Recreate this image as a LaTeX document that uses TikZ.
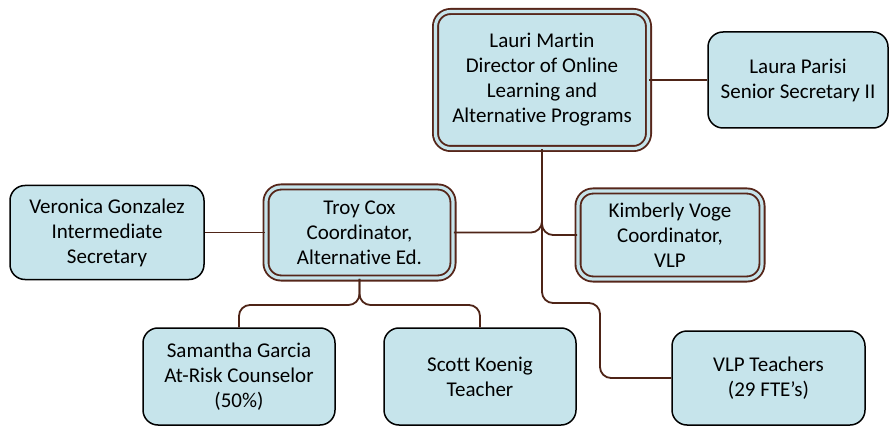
\documentclass[tikz,border=0pt]{standalone}
\usepackage{fontspec}
\setmainfont[Ligatures=NoCommon]{Carlito}
\usetikzlibrary{calc}
\definecolor{boxfill}{HTML}{C6E4EB}
\definecolor{brownline}{HTML}{56261A}
\definecolor{conncol}{HTML}{4E2417}
\begin{document}
\begin{tikzpicture}[x=1pt,y=-1pt,
  every node/.style={font=\fontsize{21}{25}\selectfont, align=center, inner sep=0pt},
  plainbox/.style={draw=black, line width=1.5pt, fill=boxfill, rounded corners=15pt},
  dblbox/.style={draw=brownline, line width=1.9pt, double=boxfill, double distance=3.2pt, fill=boxfill, rounded corners=15pt},
  conn/.style={draw=conncol, line width=1.8pt, rounded corners=11pt}]
\useasboundingbox (0,0) rectangle (890,427);

\node[dblbox, minimum width=213pt, minimum height=137pt] (lm) at (542,80)
  {Lauri Martin\\Director of Online\\Learning and\\Alternative Programs};
\node[plainbox, minimum width=180pt, minimum height=96pt] (lp) at (798,80)
  {Laura Parisi\\Senior Secretary II};
\node[plainbox, minimum width=194pt, minimum height=94pt] (vg) at (107,232.5)
  {Veronica Gonzalez\\Intermediate\\Secretary};
\node[dblbox, minimum width=187pt, minimum height=91pt] (tc) at (359.5,232.5)
  {Troy Cox\\Coordinator,\\Alternative Ed.};
\node[dblbox, minimum width=184pt, minimum height=88pt] (kv) at (670,235)
  {Kimberly Voge\\Coordinator,\\VLP};
\node[plainbox, minimum width=192pt, minimum height=97pt] (sg) at (239,376.5)
  {Samantha Garcia\\At-Risk Counselor\\(50\%)};
\node[plainbox, minimum width=192pt, minimum height=97pt] (sk) at (480,376.5)
  {Scott Koenig\\Teacher};
\node[plainbox, minimum width=193pt, minimum height=94pt] (vt) at (768.5,378)
  {VLP Teachers\\(29 FTE’s)};

\coordinate (vj) at (600,303);
\coordinate (bar) at (0,305);

\draw[conn] (lm.east) -- (lp.west);
\draw[conn] (lm.south) |- (tc.east);
\draw[conn] (lm.south) |- (kv.west);
\draw[conn] (lm.south) |- (vj) |- (vt.west);
\draw[conn] (vg.east) -- (tc.west);
\draw[conn] (tc.south) -- (tc.south |- bar) -| (sg.north);
\draw[conn] (tc.south) -- (tc.south |- bar) -| (sk.north);
\end{tikzpicture}
\end{document}
